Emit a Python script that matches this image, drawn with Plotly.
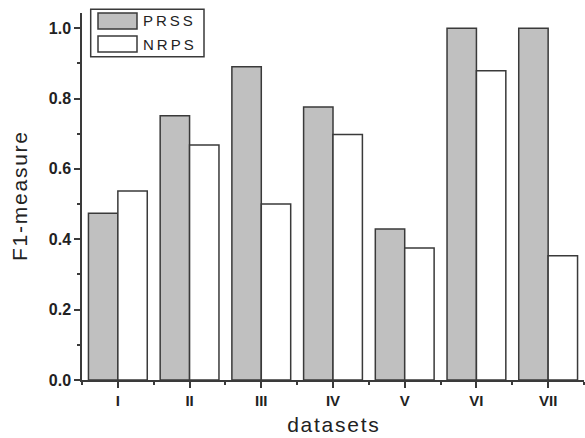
import plotly.graph_objects as go

categories = ["I", "II", "III", "IV", "V", "VI", "VII"]
prss = [0.474, 0.751, 0.890, 0.776, 0.429, 1.0, 1.0]
nrps = [0.537, 0.668, 0.500, 0.698, 0.375, 0.879, 0.353]
yticks = [0.0, 0.2, 0.4, 0.6, 0.8, 1.0]

xpos = list(range(len(categories)))
line_col = "#3a3a3a"
font = "Liberation Sans, Arial, sans-serif"
hs = "\u200a"

fig = go.Figure()
fig.add_trace(go.Bar(x=xpos, y=prss, name="PRSS",
                     marker=dict(color="#c0c0c0", line=dict(color=line_col, width=1.5))))
fig.add_trace(go.Bar(x=xpos, y=nrps, name="NRPS",
                     marker=dict(color="#ffffff", line=dict(color=line_col, width=1.5))))

fig.update_layout(
    width=585, height=438,
    margin=dict(l=82, r=1, t=13, b=58),
    paper_bgcolor="white", plot_bgcolor="white",
    barmode="group", bargap=0.18, bargroupgap=0,
    showlegend=False,
    font=dict(family=font, color="#222222"),
)
fig.update_xaxes(
    range=[-0.5, 6.5], tickvals=xpos, ticktext=categories, automargin=False,
    showline=True, linecolor=line_col, linewidth=1.5,
    ticks="outside", ticklen=6, tickwidth=1.5, tickcolor=line_col,
    tickfont=dict(size=15, family=font, weight="bold"),
    minor=dict(tickvals=[i + 0.5 for i in range(-1, 7)], ticks="outside", ticklen=3,
               tickwidth=1.5, tickcolor=line_col),
    showgrid=False, zeroline=False,
    title=dict(text=hs.join("datasets"), font=dict(size=21, family=font), standoff=10),
)
fig.update_yaxes(
    range=[0, 1.043], tickvals=yticks, ticktext=[f"{v:.1f}" for v in yticks], automargin=False,
    showline=True, linecolor=line_col, linewidth=1.5,
    ticks="outside", ticklen=6, tickwidth=1.5, tickcolor=line_col,
    tickfont=dict(size=16, family=font, weight="bold"),
    minor=dict(tickvals=[0.1, 0.3, 0.5, 0.7, 0.9], ticks="outside", ticklen=3,
               tickwidth=1.5, tickcolor=line_col),
    showgrid=False, zeroline=False,
    title=dict(text=hs.join("F1-measure"), font=dict(size=21, family=font), standoff=15),
)

# custom legend (box with wide swatches)
fig.add_shape(type="rect", xref="paper", yref="paper",
              x0=(90.7 - 82) / 502, x1=(204 - 82) / 502,
              y0=(380 - 56.7) / 367, y1=(380 - 9.3) / 367,
              line=dict(color=line_col, width=1.5), fillcolor="white")
for i, (name, col) in enumerate([("PRSS", "#c0c0c0"), ("NRPS", "#ffffff")]):
    top = 13 + i * 23
    fig.add_shape(type="rect", xref="paper", yref="paper",
                  x0=(98 - 82) / 502, x1=(137 - 82) / 502,
                  y0=(380 - (top + 16)) / 367, y1=(380 - top) / 367,
                  line=dict(color=line_col, width=1.5), fillcolor=col)
    fig.add_annotation(xref="paper", yref="paper", x=(141 - 82) / 502,
                       y=(380 - (top + 8)) / 367, xanchor="left", yanchor="middle",
                       text="&#8201;".join(name), showarrow=False,
                       font=dict(size=15, family=font, color="#222222"))

fig.write_html("out.html", config={"displayModeBar": False},
               post_script="document.body.style.margin='0';")
